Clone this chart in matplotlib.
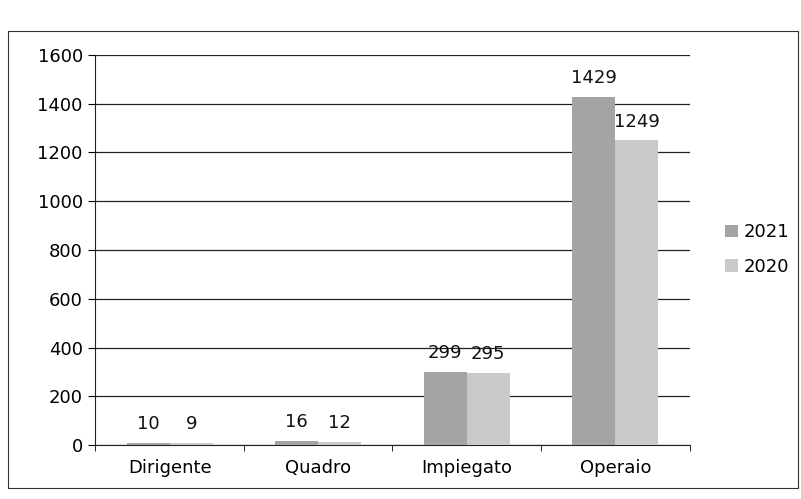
import numpy as np
import matplotlib.pyplot as plt
from matplotlib.patches import Rectangle

categories = ['Dirigente', 'Quadro', 'Impiegato', 'Operaio']
vals_2021 = [10, 16, 299, 1429]
vals_2020 = [9, 12, 295, 1249]
series_names = ['2021', '2020']

col_2021 = '#a4a4a4'
col_2020 = '#c9c9c9'
fs = 13

fig = plt.figure(figsize=(8.01, 4.99), dpi=100)
ax = fig.add_axes([0.119, 0.108, 0.742, 0.782])

x = np.arange(len(categories))
w = 0.29
b1 = ax.bar(x - w/2, vals_2021, w, color=col_2021, label=series_names[0], zorder=3)
b2 = ax.bar(x + w/2, vals_2020, w, color=col_2020, label=series_names[1], zorder=3)

for bars, vals in [(b1, vals_2021), (b2, vals_2020)]:
    for r, v in zip(bars, vals):
        ax.text(r.get_x() + r.get_width()/2, v + 40, str(v), ha='center', va='bottom',
                fontsize=fs, color='#111111')

ax.set_xlim(-0.5, 3.5)
ax.set_ylim(0, 1600)
ax.set_yticks(np.arange(0, 1601, 200))
ax.set_xticks(x)
ax.set_xticklabels(categories)
ax.set_xticks(np.arange(-0.5, 4, 1), minor=True)
ax.tick_params(axis='x', which='major', length=0, pad=10, labelsize=fs)
ax.tick_params(axis='x', which='minor', length=4, direction='out')
ax.tick_params(axis='y', length=5, direction='out', labelsize=fs, pad=4)
ax.grid(axis='y', color='#222222', linewidth=0.9, zorder=0)
for s in ['top', 'right']:
    ax.spines[s].set_visible(False)
ax.spines['left'].set_color('#222222')
ax.spines['bottom'].set_color('#222222')

leg = fig.legend(handles=[b1, b2], loc='center left', bbox_to_anchor=(0.885, 0.5),
                 frameon=False, fontsize=fs, handlelength=0.7, handleheight=0.7,
                 handletextpad=0.3, labelspacing=0.9)

fig.patches.append(Rectangle((8/801, 1 - 488/499), 790/801, (488-31)/499,
                             transform=fig.transFigure, fill=False,
                             edgecolor='#333333', linewidth=0.8))

fig.savefig('out.png', dpi=100)
